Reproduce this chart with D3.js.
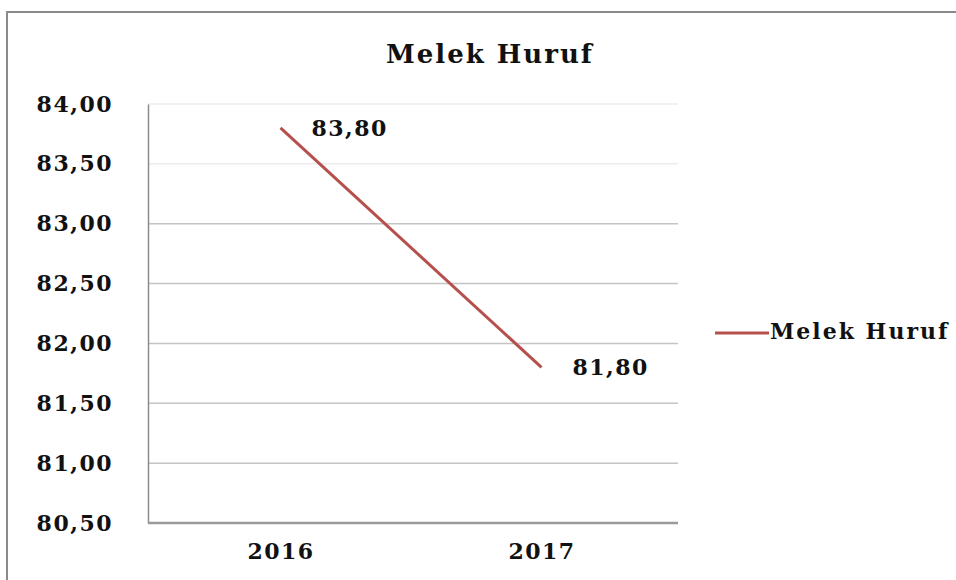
<!DOCTYPE html>
<html>
<head>
<meta charset="utf-8">
<script src="https://cdn.jsdelivr.net/npm/d3@7/dist/d3.min.js"></script>
<style>
  body { margin: 0; background: #fff; }
  svg text { font-family: "DejaVu Serif", serif; font-weight: bold; fill: #111; }
</style>
</head>
<body>
<svg width="956" height="580"></svg>
<script>
const years = ["2016", "2017"];
const values = [83.80, 81.80];
const yTicks = [80.5, 81, 81.5, 82, 82.5, 83, 83.5, 84];
const seriesName = "Melek Huruf";
const chartTitle = "Melek Huruf";

const svg = d3.select("svg");
const fmt = d => d.toFixed(2).replace(".", ",");

// outer chart border (right and bottom run off the picture)
svg.append("rect")
   .attr("x", 7).attr("y", 12)
   .attr("width", 970).attr("height", 600)
   .attr("fill", "none")
   .attr("stroke", "#8a8a8a")
   .attr("stroke-width", 2);

const plot = { left: 148, right: 678, top: 104, bottom: 523 };

const y = d3.scaleLinear()
            .domain([80.5, 84])
            .range([plot.bottom, plot.top]);

const x = d3.scalePoint()
            .domain(years)
            .range([150, 672])
            .padding(0.5);

// gridlines
svg.append("g")
   .selectAll("line")
   .data(yTicks.filter(t => t > 80.5))
   .enter()
   .append("line")
   .attr("x1", plot.left).attr("x2", plot.right)
   .attr("y1", d => y(d)).attr("y2", d => y(d))
   .attr("stroke", d => d >= 83.5 ? "#ececec" : "#c4c4c4")
   .attr("stroke-width", 1.5);

// y axis
const yAxis = svg.append("g")
   .attr("transform", `translate(${plot.left},0)`)
   .call(d3.axisLeft(y).tickValues(yTicks).tickFormat(fmt).tickSize(0).tickPadding(35));
yAxis.select(".domain").attr("stroke", "#8c8c8c").attr("stroke-width", 1.5);
yAxis.selectAll("text")
     .attr("font-size", 22)
     .attr("letter-spacing", "1.5px")
     .attr("fill", "#111")
     .style("font-family", "DejaVu Serif")
     .style("font-weight", "bold");

// x axis
const xAxis = svg.append("g")
   .attr("transform", `translate(0,${plot.bottom})`)
   .call(d3.axisBottom(x).tickSize(0).tickPadding(20));
xAxis.select(".domain")
     .attr("d", `M${plot.left},0H${plot.right}`)
     .attr("stroke", "#9a9a9a").attr("stroke-width", 2.5);
xAxis.selectAll("text")
     .attr("font-size", 22)
     .attr("letter-spacing", "1.5px")
     .attr("fill", "#111")
     .style("font-family", "DejaVu Serif")
     .style("font-weight", "bold");

// series line
const line = d3.line()
               .x((d, i) => x(years[i]))
               .y(d => y(d));

svg.append("path")
   .datum(values)
   .attr("d", line)
   .attr("fill", "none")
   .attr("stroke", "#b5504d")
   .attr("stroke-width", 3);

// data labels
svg.selectAll(".dlabel")
   .data(values)
   .enter()
   .append("text")
   .attr("class", "dlabel")
   .attr("x", (d, i) => x(years[i]) + 31)
   .attr("y", d => y(d) + 2)
   .attr("dominant-baseline", "middle")
   .attr("font-size", 22)
   .attr("letter-spacing", "1.5px")
   .text(fmt);

// title
svg.append("text")
   .attr("x", 490)
   .attr("y", 63)
   .attr("text-anchor", "middle")
   .attr("font-size", 26)
   .attr("letter-spacing", "2px")
   .text(chartTitle);

// legend
svg.append("line")
   .attr("x1", 715).attr("x2", 769)
   .attr("y1", 333).attr("y2", 333)
   .attr("stroke", "#b5504d")
   .attr("stroke-width", 3);
svg.append("text")
   .attr("x", 770)
   .attr("y", 333)
   .attr("dominant-baseline", "middle")
   .attr("font-size", 22)
   .attr("letter-spacing", "2px")
   .text(seriesName);
</script>
</body>
</html>
